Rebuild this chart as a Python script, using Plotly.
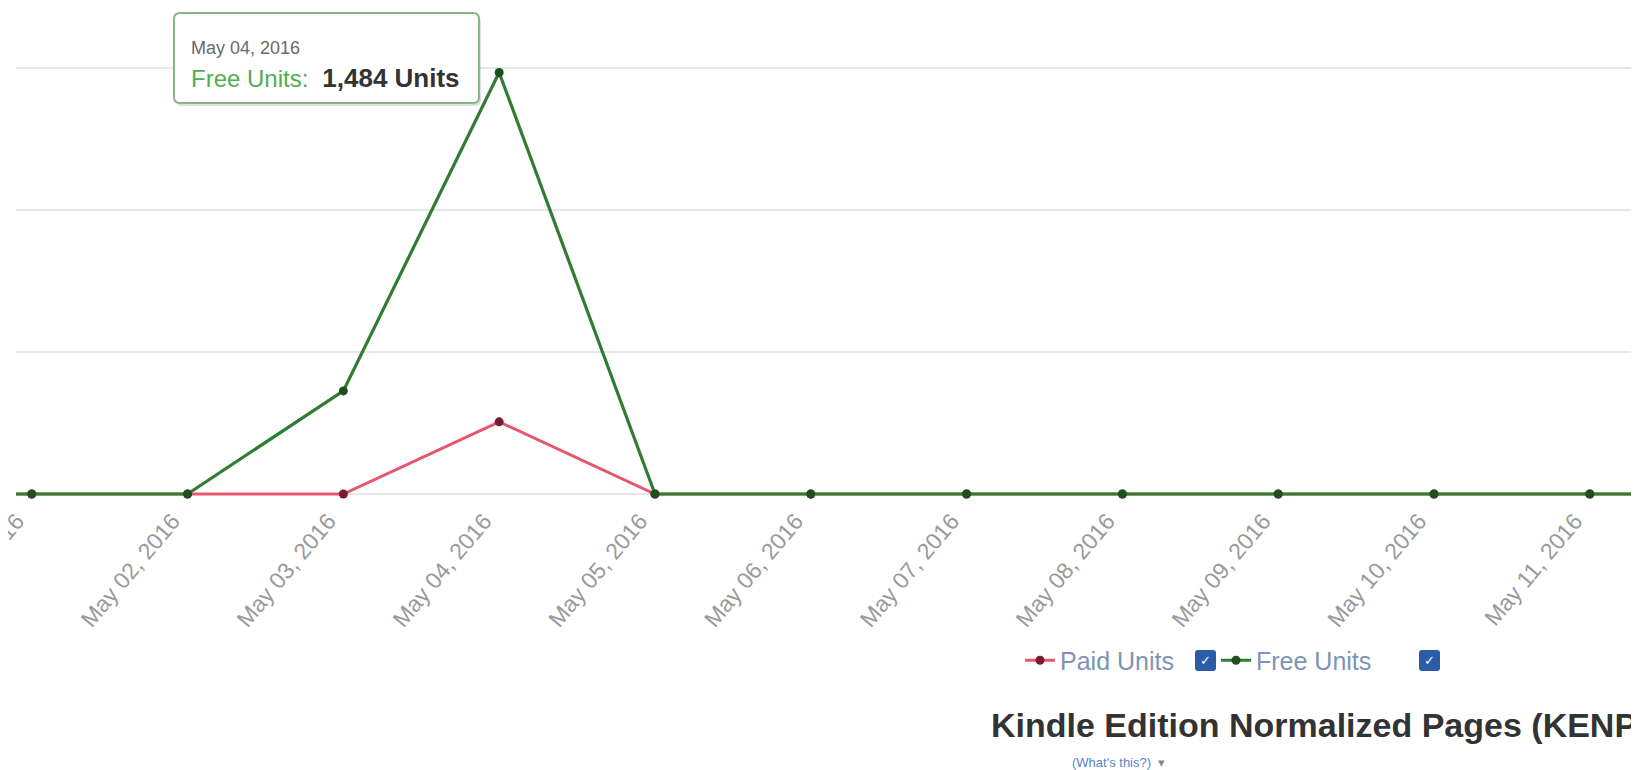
import plotly.graph_objects as go

# ---- data ----
dates = ["Apr 30, 2016", "May 01, 2016", "May 02, 2016", "May 03, 2016", "May 04, 2016",
         "May 05, 2016", "May 06, 2016", "May 07, 2016", "May 08, 2016", "May 09, 2016",
         "May 10, 2016", "May 11, 2016", "May 12, 2016"]
paid_units = [0, 0, 0, 0, 254, 0, 0, 0, 0, 0, 0, 0, 0]
free_units = [0, 0, 0, 363, 1484, 0, 0, 0, 0, 0, 0, 0, 0]
y_ticks = [0, 500, 1000, 1500]

tooltip_date = "May 04, 2016"
tooltip_series = "Free Units:"
tooltip_value = "1,484 Units"
chart_title = "Kindle Edition Normalized Pages (KENP)"
help_link = "(What's this?)"

FONT = "Liberation Sans, Arial, Helvetica, sans-serif"
W, H = 1639, 770
L, R, T, B = 8, 0, 4, 276
PW = W - L - R
PH = H - T - B


def px(x):
    return (x - L) / PW


def py(y):
    return (H - B - y) / PH


def rounded_rect(x0, y0, x1, y1, r):
    pts = [
        f"M {px(x0 + r)} {py(y0)}",
        f"L {px(x1 - r)} {py(y0)}",
        f"Q {px(x1)} {py(y0)} {px(x1)} {py(y0 + r)}",
        f"L {px(x1)} {py(y1 - r)}",
        f"Q {px(x1)} {py(y1)} {px(x1 - r)} {py(y1)}",
        f"L {px(x0 + r)} {py(y1)}",
        f"Q {px(x0)} {py(y1)} {px(x0)} {py(y1 - r)}",
        f"L {px(x0)} {py(y0 + r)}",
        f"Q {px(x0)} {py(y0)} {px(x0 + r)} {py(y0)}",
        "Z",
    ]
    return " ".join(pts)


fig = go.Figure()
fig.add_trace(go.Scatter(
    x=dates, y=paid_units, name="Paid Units", mode="lines+markers",
    line=dict(color="#e5566f", width=3),
    marker=dict(color="#7a1a35", size=9),
))
fig.add_trace(go.Scatter(
    x=dates, y=free_units, name="Free Units", mode="lines+markers",
    line=dict(color="#2e7d32", width=3.2),
    marker=dict(color="#1d4f1f", size=9),
))

fig.update_xaxes(
    type="category", range=[0.899, 11.367], tickangle=-50, automargin=False,
    showgrid=False, zeroline=False, showline=False, ticks="",
    ticklabelshift=-15,
    tickfont=dict(family=FONT, size=23, color="#9a9a9a"),
)
fig.update_yaxes(
    range=[-28.2, 1697], tickvals=y_ticks, showticklabels=False, automargin=False,
    showgrid=True, gridcolor="#e6e6e6", gridwidth=2, zeroline=False,
)

# tooltip box (shadow + rounded frame)
shapes = [
    dict(type="path", xref="paper", yref="paper", layer="above",
         path=rounded_rect(168, 8, 473, 98, 6),
         fillcolor="rgba(0,0,0,0.13)", line=dict(width=0)),
    dict(type="path", xref="paper", yref="paper", layer="above",
         path=rounded_rect(166, 5, 471, 95, 6),
         fillcolor="white", line=dict(color="#86b886", width=2)),
]

annotations = [
    dict(
        xref="paper", yref="paper", x=px(181), y=py(58), xanchor="left", yanchor="middle",
        text=(f"<span style='color:#6a6a6a;font-size:18px'>{tooltip_date}</span><br>"
              f"<span style='color:#4caf50;font-size:24px'>{tooltip_series}</span>  "
              f"<b style='color:#333333;font-size:26px'>{tooltip_value}</b>"),
        align="left", showarrow=False,
        font=dict(family=FONT, size=25, color="#333333"),
    ),
    dict(
        xref="paper", yref="paper", x=px(981), y=py(717), xanchor="left", yanchor="middle",
        text=f"<b>{chart_title}</b>", showarrow=False,
        font=dict(family=FONT, size=34, color="#333333"),
    ),
    dict(
        xref="paper", yref="paper", x=px(1062), y=py(754), xanchor="left", yanchor="middle",
        text=f"{help_link}  <span style='color:#888888'>▾</span>", showarrow=False,
        font=dict(family=FONT, size=13, color="#5b83c4"),
    ),
]

for x0, x1 in [(1187, 1208), (1411, 1432)]:
    shapes.append(dict(
        type="path", xref="paper", yref="paper",
        path=rounded_rect(x0, 642, x1, 663, 3),
        fillcolor="#2a5caa", line=dict(width=0),
    ))
    annotations.append(dict(
        xref="paper", yref="paper", x=px((x0 + x1) / 2), y=py(652.5),
        xanchor="center", yanchor="middle", text="✓", showarrow=False,
        font=dict(family="DejaVu Sans", size=13, color="white"),
    ))

fig.update_layout(
    width=W, height=H,
    margin=dict(l=L, r=R, t=T, b=B, autoexpand=False),
    paper_bgcolor="white", plot_bgcolor="white",
    showlegend=True,
    legend=dict(
        orientation="h", xref="paper", yref="paper",
        x=px(1012), y=py(652.5), xanchor="left", yanchor="middle",
        font=dict(family=FONT, size=25, color="#7d94b8"),
        entrywidth=151, entrywidthmode="pixels",
        bgcolor="rgba(0,0,0,0)",
    ),
    annotations=annotations,
    shapes=shapes,
    hovermode=False,
)

fig.write_html("out.html")
